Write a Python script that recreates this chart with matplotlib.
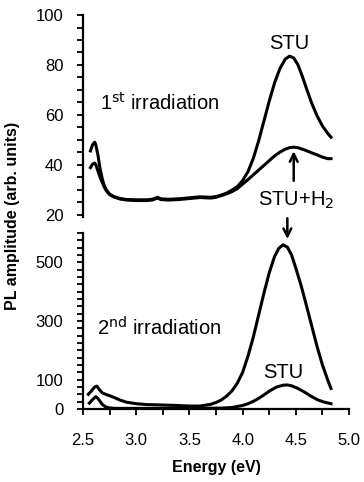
import matplotlib
matplotlib.use("Agg")
import matplotlib.pyplot as plt
from matplotlib.ticker import MultipleLocator

plt.rcParams['font.family'] = ['Liberation Sans', 'DejaVu Sans']

# 1st irradiation (top panel)
e1 = [2.57, 2.59, 2.61, 2.62, 2.64, 2.66, 2.68, 2.70, 2.72, 2.75, 2.79, 2.85, 2.91,
      3.0, 3.1, 3.15, 3.2, 3.23, 3.3, 3.4, 3.5, 3.6, 3.7, 3.75,
      3.80, 3.85, 3.90, 3.95, 4.00, 4.05, 4.10, 4.15, 4.20, 4.25, 4.30, 4.35, 4.40,
      4.44, 4.48, 4.52, 4.56, 4.60, 4.65, 4.70, 4.75, 4.80, 4.83]
stu1 = [45.5, 48.0, 49.0, 48.0, 44.0, 38.5, 34.5, 31.5, 29.8, 28.2, 27.2, 26.4, 26.0,
        25.9, 25.9, 26.1, 26.9, 26.3, 26.1, 26.3, 26.7, 27.1, 26.9, 27.2,
        27.8, 28.6, 29.8, 31.2, 33.6, 37.2, 42.5, 49.5, 57.5, 65.5, 72.8, 78.5, 82.3,
        83.5, 82.8, 80.0, 75.5, 70.5, 64.5, 59.5, 55.5, 52.5, 51.0]
stuh1 = [38.8, 40.2, 40.6, 40.0, 37.5, 35.0, 33.0, 31.0, 29.5, 28.0, 27.0, 26.2, 25.8,
         25.6, 25.6, 25.8, 26.6, 26.0, 25.8, 26.0, 26.4, 26.8, 26.6, 26.9,
         27.6, 28.3, 29.2, 30.4, 32.2, 34.0, 35.9, 37.8, 39.7, 41.6, 43.5, 45.0, 46.2,
         46.8, 47.0, 46.8, 46.2, 45.6, 44.7, 43.9, 43.0, 42.4, 42.4]

# 2nd irradiation (bottom panel)
e2h = [2.55, 2.58, 2.61, 2.63, 2.65, 2.68, 2.72, 2.76, 2.80, 2.85, 2.91, 3.0, 3.1,
       3.2, 3.38, 3.5, 3.6, 3.7, 3.75, 3.80, 3.85, 3.90, 3.95, 4.00, 4.05, 4.10,
       4.15, 4.20, 4.25, 4.30, 4.34, 4.38, 4.42, 4.46, 4.50, 4.55, 4.60, 4.65, 4.70,
       4.75, 4.80, 4.83]
stuh2 = [50, 62, 75, 78, 68, 55, 49, 44, 38, 30, 23, 18, 15,
         14, 12, 10, 10, 16, 22, 31, 44, 62, 88, 125, 180, 245,
         320, 395, 465, 520, 548, 560, 552, 525, 480, 420, 352, 282, 212,
         150, 98, 70]
e2s = [2.56, 2.59, 2.62, 2.64, 2.66, 2.68, 2.71, 2.74, 2.8, 3.0, 3.5, 3.8, 3.9,
       4.0, 4.05, 4.1, 4.15, 4.2, 4.26, 4.32, 4.38, 4.42, 4.46, 4.52, 4.58, 4.64,
       4.70, 4.76, 4.83]
stu2 = [20, 32, 42, 36, 26, 16, 8, 4, 2, 2, 2, 3, 5,
        12, 18, 26, 36, 48, 63, 75, 81, 82, 79, 70, 58, 44,
        32, 24, 18]

fig = plt.figure(figsize=(3.64, 4.82), dpi=100)
ax1 = fig.add_axes([0.228, 0.5498, 0.731, 0.419])
ax2 = fig.add_axes([0.228, 0.1515, 0.731, 0.365])

lw = 2.2
ax1.plot(e1, stu1, color='black', lw=lw)
ax1.plot(e1, stuh1, color='black', lw=lw)
ax2.plot(e2h, stuh2, color='black', lw=lw)
ax2.plot(e2s, stu2, color='black', lw=lw)

for ax in (ax1, ax2):
    ax.set_xlim(2.5, 5.0)
    ax.spines['top'].set_visible(False)
    ax.spines['right'].set_visible(False)
    ax.spines['left'].set_linewidth(1.6)
    ax.spines['bottom'].set_linewidth(1.6)
    ax.tick_params(axis='both', which='both', direction='out', length=4, width=1.3,
                   labelsize=12)
    ax.tick_params(axis='y', pad=10)

ax1.set_ylim(19, 100)
ax1.set_yticks([20, 40, 60, 80, 100])
ax1.yaxis.set_minor_locator(MultipleLocator(5))
ax1.spines['bottom'].set_visible(False)
ax1.set_xticks([])

ax2.set_ylim(0, 600)
ax2.set_yticks([0, 100, 300, 500])
ax2.yaxis.set_minor_locator(MultipleLocator(25))
ax2.set_xticks([2.5, 3.0, 3.5, 4.0, 4.5, 5.0])
ax2.set_xticklabels(['2.5', '3.0', '3.5', '4.0', '4.5', '5.0'])
ax2.xaxis.set_minor_locator(MultipleLocator(0.25))
ax2.tick_params(axis='x', pad=13)

fs = 14.5
ax1.text(2.66, 64.6, r'1$^{\rm st}$ irradiation', fontsize=fs, va='center', ha='left')
ax1.text(4.44, 88.5, 'STU', fontsize=fs, va='center', ha='center')
ax1.text(4.5, 25.6, r'STU+H$_2$', fontsize=fs, va='center', ha='center', clip_on=False)
ax1.annotate('', xy=(4.48, 46.5), xytext=(4.48, 32.4),
             arrowprops=dict(arrowstyle='->', lw=1.8, color='black', mutation_scale=14))
ax2.annotate('', xy=(4.42, 570), xytext=(4.42, 660), annotation_clip=False,
             arrowprops=dict(arrowstyle='->', lw=1.8, color='black', mutation_scale=14))

ax2.text(2.63, 276, r'2$^{\rm nd}$ irradiation', fontsize=fs, va='center', ha='left')
ax2.text(4.38, 125, 'STU', fontsize=fs, va='center', ha='center')

ax2.set_xlabel('Energy (eV)', fontsize=11.5, fontweight='bold', labelpad=9)
fig.text(0.035, 0.552, 'PL amplitude (arb. units)', fontsize=11.5, fontweight='bold',
         rotation=90, va='center', ha='center')

fig.savefig('out.png', dpi=100)
